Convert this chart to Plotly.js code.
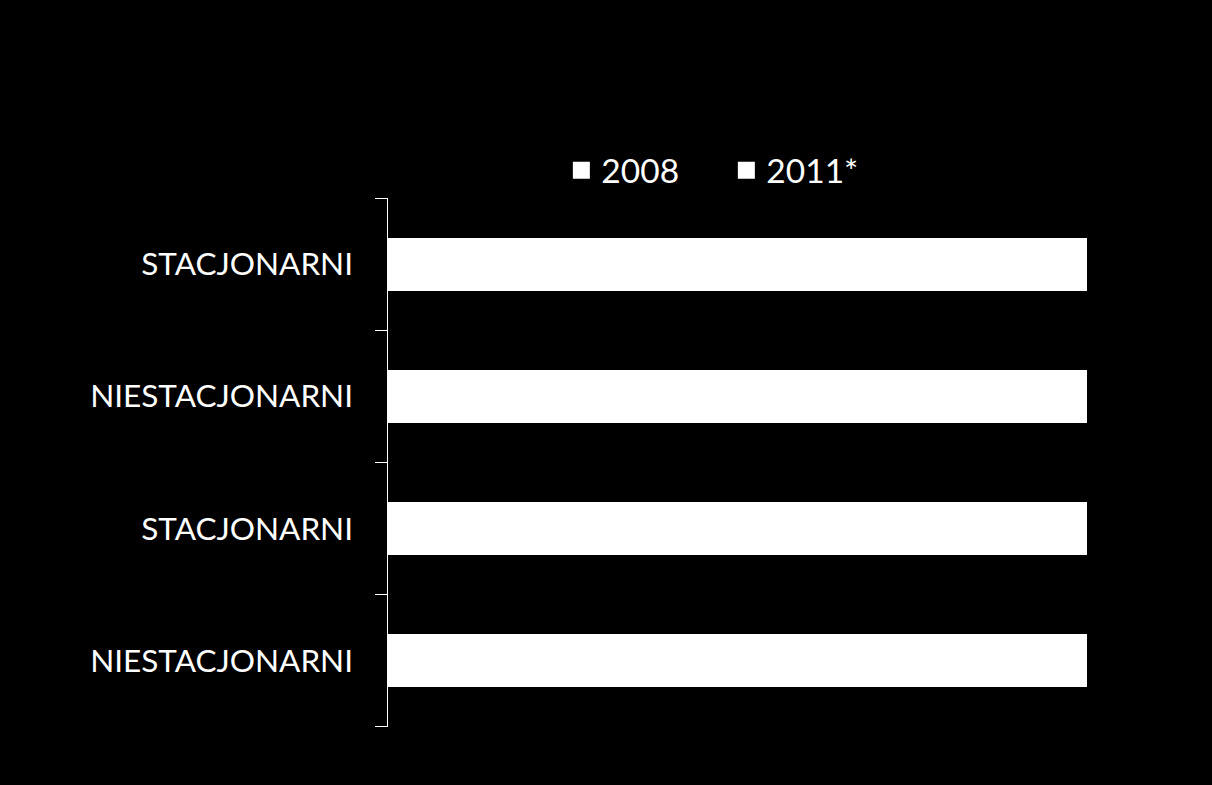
<!DOCTYPE html>
<html>
<head>
<meta charset="utf-8">
<script src="https://cdn.plot.ly/plotly-3.0.1.min.js"></script>
<style>html,body{margin:0;padding:0;background:#000;}#chart{width:1212px;height:785px;}</style>
</head>
<body>
<div id="chart"></div>
<script>
// Categories, top to bottom
const categories = ["STACJONARNI", "NIESTACJONARNI", "STACJONARNI", "NIESTACJONARNI"];
// 100% stacked shares (both series are drawn in white, so the split is not visible)
const values2008 = [52, 48, 55, 45];
const values2011 = [48, 52, 45, 55];
const seriesNames = ["2008", "2011*"];

const FONT = "Lato, 'Open Sans', sans-serif";
const pos = categories.map((c, i) => i);
const boundaries = categories.map((c, i) => i - 0.5).concat([categories.length - 0.5]);
const yRange = [categories.length - 0.5 + 0.002, -0.502];

const traces = [
  {type: "bar", orientation: "h", name: seriesNames[0], y: pos, x: values2008,
   marker: {color: "#ffffff", line: {color: "#ffffff", width: 5}}, hoverinfo: "none"},
  {type: "bar", orientation: "h", name: seriesNames[1], y: pos, x: values2011,
   marker: {color: "#ffffff", line: {color: "#ffffff", width: 5}}, hoverinfo: "none"},
  // invisible carrier so that the label axis (y2) is drawn
  {type: "scatter", mode: "markers", y: pos, x: values2008, yaxis: "y2",
   marker: {opacity: 0, size: 1}, showlegend: false, hoverinfo: "none"}
];

const layout = {
  width: 1212, height: 785,
  paper_bgcolor: "#000000", plot_bgcolor: "#000000",
  barmode: "stack",
  bargap: 0.637,
  margin: {l: 388, r: 124.5, t: 198, b: 58, pad: 0},
  font: {family: FONT, color: "#ffffff", size: 31.5},
  showlegend: true,
  legend: {orientation: "h", x: 0.248, xanchor: "left", y: 1.052, yanchor: "middle",
           font: {family: FONT, size: 33.5, color: "#ffffff"}, bgcolor: "rgba(0,0,0,0)",
           traceorder: "normal", entrywidth: 120, entrywidthmode: "pixels"},
  xaxis: {visible: false, range: [0, 100], fixedrange: true},
  yaxis: {type: "linear", range: yRange, showgrid: false, zeroline: false,
          showline: true, linecolor: "#ffffff", linewidth: 1.5,
          ticks: "outside", tickmode: "array", tickvals: boundaries,
          ticktext: boundaries.map(() => ""), ticklen: 12, tickwidth: 1.5, tickcolor: "#ffffff",
          fixedrange: true},
  yaxis2: {type: "linear", overlaying: "y", side: "left", range: yRange,
           showgrid: false, zeroline: false, showline: false, ticks: "",
           tickmode: "array", tickvals: pos, ticktext: categories,
           ticklabelstandoff: 34,
           tickfont: {family: FONT, size: 31.5, color: "#ffffff"}, fixedrange: true}
};

Plotly.newPlot("chart", traces, layout, {displayModeBar: false, staticPlot: true});
</script>
</body>
</html>
